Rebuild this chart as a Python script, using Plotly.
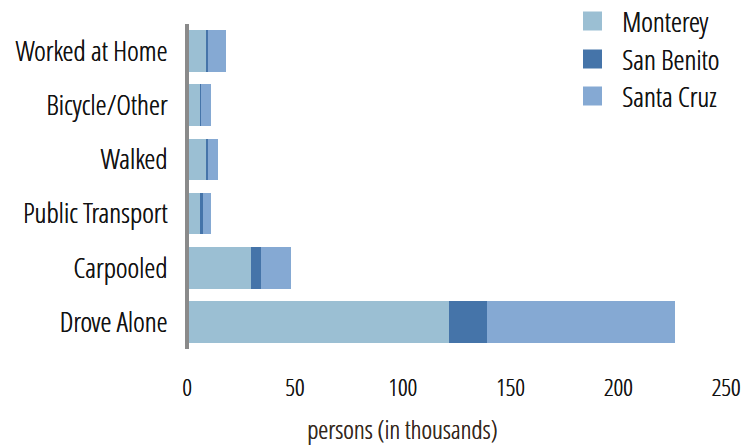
import plotly.graph_objects as go

categories = ["Drove Alone", "Carpooled", "Public Transport", "Walked", "Bicycle/Other", "Worked at Home"]
monterey = [120.6, 28.6, 5.1, 8.3, 5.1, 8.3]
san_benito = [17.5, 4.6, 1.4, 0.5, 0.5, 0.5]
santa_cruz = [87.3, 14.3, 3.9, 4.6, 4.8, 8.3]
x_ticks = [0, 50, 100, 150, 200, 250]
series_names = ["Monterey", "San Benito", "Santa Cruz"]
series_colors = ["#9bbfd3", "#4574a9", "#85a9d3"]

FONT = "Open Sans Condensed Light"
INK = "#111111"
SHADOW = "0.4px 0px 0px #111111"

fig = go.Figure()
for name, vals, col in zip(series_names, [monterey, san_benito, santa_cruz], series_colors):
    fig.add_trace(go.Bar(y=categories, x=vals, name=name, orientation="h",
                         marker=dict(color=col, line=dict(width=0))))

W, H = 747, 445
L, R, T, B = 189, 19, 24, 96
PW, PH = W - L - R, H - T - B


def px(x):
    return (x - L) / PW


def py(y):
    return 1 - (y - T) / PH


fig.update_layout(
    barmode="stack",
    bargap=0.23,
    width=W, height=H,
    margin=dict(l=L, r=R, t=T, b=B, autoexpand=False),
    plot_bgcolor="white", paper_bgcolor="white",
    font=dict(family=FONT, size=28, color=INK, shadow=SHADOW),
    showlegend=False,
    xaxis=dict(range=[0, 250], tickvals=x_ticks, showgrid=False, zeroline=False,
               showline=False, ticks="", tickfont=dict(size=24), ticklabelstandoff=22,
               ticklabelshift=-2),
    yaxis=dict(showgrid=False, zeroline=False, showline=True, linecolor="#8a8a8a",
               linewidth=4, ticks="", ticklabelstandoff=12, tickfont=dict(size=28)),
)
fig.add_annotation(text="persons (in thousands)", x=px(402), y=py(429),
                   xref="paper", yref="paper", xanchor="center", yanchor="middle",
                   showarrow=False, font=dict(size=25.5, color="#33261a",
                                              shadow="0.4px 0px 0px #33261a"))

# legend
leg_y = [21, 59, 96]
for name, col, yc in zip(series_names, series_colors, leg_y):
    fig.add_shape(type="rect", xref="paper", yref="paper",
                  x0=px(583), x1=px(602), y0=py(yc - 9.5), y1=py(yc + 9.5),
                  fillcolor=col, line=dict(width=0))
    fig.add_annotation(text=name, x=px(620), y=py(yc), xref="paper", yref="paper",
                       xanchor="left", yanchor="middle", showarrow=False,
                       font=dict(size=28, color=INK))
fig.write_html("out.html", config={"displayModeBar": False},
               post_script="document.body.style.margin='0';")
